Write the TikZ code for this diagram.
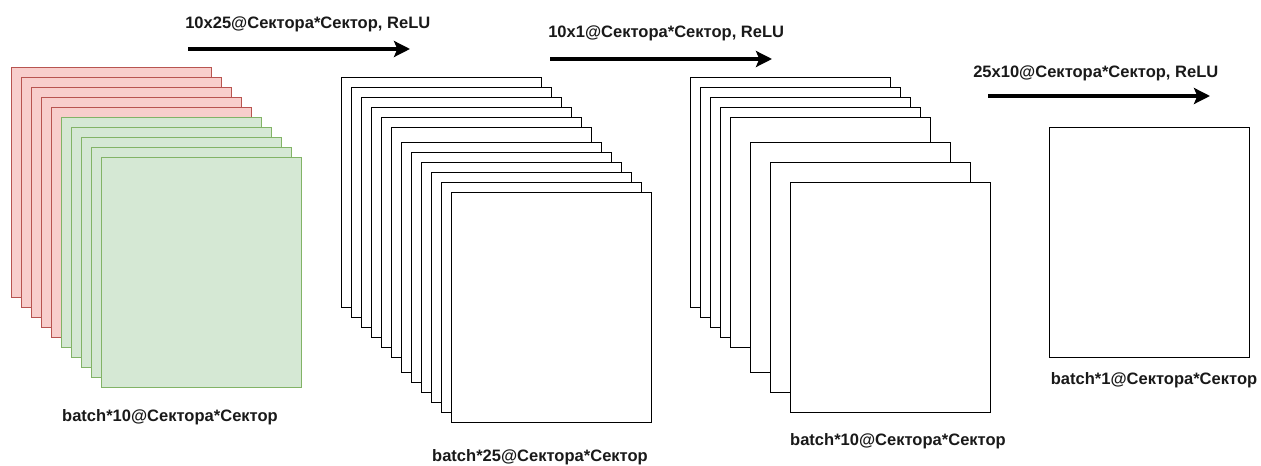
\documentclass[tikz,border=0pt]{standalone}
\usepackage{fontspec}
\setmainfont{Liberation Sans}
\usetikzlibrary{arrows.meta}
\definecolor{redfill}{HTML}{F8CECC}
\definecolor{redline}{HTML}{B85450}
\definecolor{greenfill}{HTML}{D5E8D4}
\definecolor{greenline}{HTML}{82B366}
\begin{document}
\begin{tikzpicture}[x=0.75pt,y=-0.75pt,
  sheet/.style={draw=black, fill=white, line width=0.75pt, minimum width=150pt, minimum height=172.5pt, inner sep=0pt, outer sep=0pt, anchor=north west},
  redsheet/.style={sheet, draw=redline, fill=redfill},
  greensheet/.style={sheet, draw=greenline, fill=greenfill},
  lbl/.style={font=\bfseries\fontsize{12.4}{14}\selectfont, inner sep=0pt, text=black!90},
  flow/.style={line width=2.6pt, -{Stealth[length=12pt,width=12pt,inset=2.5pt]}}]
\useasboundingbox (0,0) rectangle (1261,466);
% group 1
\foreach \i in {0,...,4} \node[redsheet] (a\i) at (11+10*\i, 68+10*\i) {};
\foreach \i in {5,...,9} \node[greensheet] (a\i) at (11+10*\i, 68+10*\i) {};
% group 2
\foreach \i in {0,...,5} \node[sheet] (b\i) at (341+10*\i, 78+10*\i) {};
\foreach \i in {6,...,11} \node[sheet] (b\i) at (341+10*\i, 83+10*\i) {};
% group 3
\foreach \i in {0,...,4} \node[sheet] (c\i) at (690+10*\i, 78+10*\i) {};
\node[sheet] (c5) at (750,143) {};
\node[sheet] (c6) at (770,163) {};
\node[sheet] (c7) at (790,183) {};
% group 4
\node[sheet] (d0) at (1049,128) {};
% arrows
\coordinate (s1) at (188,49); \coordinate (e1) at (410,49);
\coordinate (s2) at (550,59); \coordinate (e2) at (772,59);
\coordinate (s3) at (988,96); \coordinate (e3) at (1210,96);
\draw[flow] (s1) -- (e1);
\draw[flow] (s2) -- (e2);
\draw[flow] (s3) -- (e3);
\node[lbl, anchor=west] (t1) at (185,24) {10x25@Сектора*Сектор, ReLU};
\node[lbl, anchor=west] (t2) at (548,33) {10x1@Сектора*Сектор, ReLU};
\node[lbl, anchor=west] (t3) at (973,73) {25x10@Сектора*Сектор, ReLU};
% bottom labels
\node[lbl] (l1) at (170,417) {batch*10@Сектора*Сектор};
\node[lbl] (l2) at (540,457) {batch*25@Сектора*Сектор};
\node[lbl] (l3) at (898,441) {batch*10@Сектора*Сектор};
\node[lbl] (l4) at (1154,380) {batch*1@Сектора*Сектор};
\end{tikzpicture}
\end{document}
